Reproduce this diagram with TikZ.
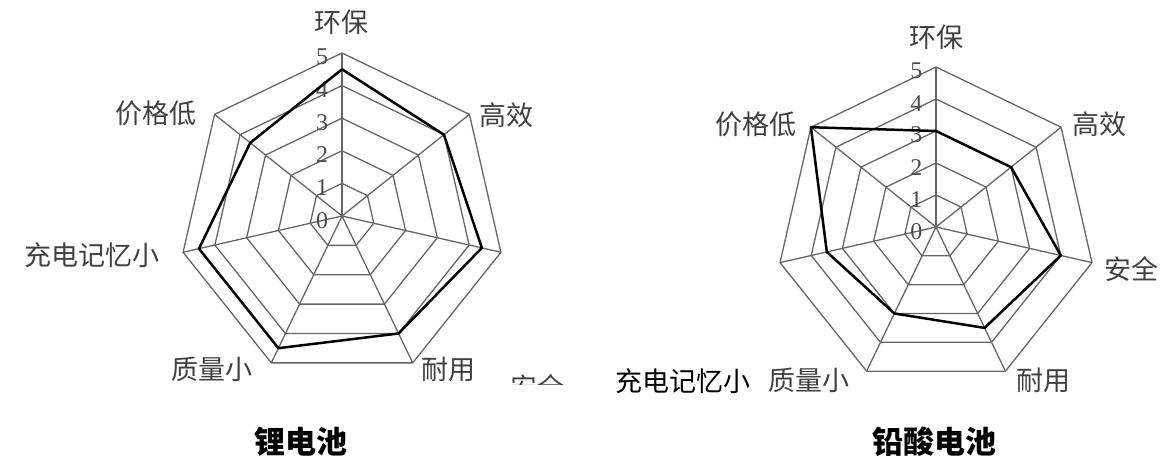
\documentclass[tikz,border=0pt]{standalone}
\usepackage{fontspec}
\setmainfont{Liberation Serif}
\newfontfamily\cjk{Noto Sans CJK SC}
\usetikzlibrary{positioning}

\tikzset{
  web/.style={draw=black!60, line width=1.3pt},
  score/.style={draw=black, line width=2.5pt, line join=round},
  axislbl/.style={font=\cjk\fontsize{27}{27}\selectfont, text=black!75, inner sep=0pt},
  lvl/.style={font=\fontsize{24}{24}\selectfont, text=black!70, inner sep=0pt, anchor=east},
  title/.style={font=\cjk\bfseries\fontsize{31}{31}\selectfont, inner sep=0pt},
}

% heptagon web with level numbers 0..5, #1 = name prefix
\newcommand\webgrid[1]{%
  \foreach \r in {1,...,5}
    \draw[web] (90:\r) -- (38.57:\r) -- (-12.86:\r) -- (-64.29:\r)
      -- (-115.71:\r) -- (-167.14:\r) -- (141.43:\r) -- cycle;
  \foreach \a in {90,38.57,-12.86,-64.29,-115.71,-167.14,141.43}
    \draw[web] (0,0) -- (\a:5);
  \foreach \v in {0,...,5}
    \node[lvl] (#1\v) at (-0.42,\v-0.13) {\v};
}

\begin{document}
\begin{tikzpicture}[x=1pt, y=1pt]
    \useasboundingbox (0,0) rectangle (1174,466);

    % lithium battery
    \begin{scope}[shift={(342,250)}, x=32.6pt, y=32.6pt]
        \webgrid{li}
        \draw[score] (90:4.5) -- (38.57:4) -- (-12.86:4.4) -- (-64.29:4)
            -- (-115.71:4.5) -- (-167.14:4.5) -- (141.43:3.6) -- cycle;
    \end{scope}
    \node[axislbl] (lihb) at (341,444) {环保};
    \node[axislbl] (ligx) at (506,351) {高效};
    \node[axislbl] (liny) at (448,97) {耐用};
    \node[axislbl] (lizl) at (212,97) {质量小};
    \node[axislbl] (licd) at (92,211) {充电记忆小};
    \node[axislbl] (lijg) at (156,353) {价格低};
    \begin{scope}
        \clip (500,82) rectangle (580,100);
        \node[axislbl] (liaq) at (537,79) {安全};
    \end{scope}
    \node[title] (lititle) at (301,24) {锂电池};

    % lead-acid battery
    \begin{scope}[shift={(936,239)}, x=32pt, y=32pt]
        \webgrid{pb}
        \draw[score] (90:3) -- (38.57:3) -- (-12.86:4) -- (-64.29:3.5)
            -- (-115.71:3) -- (-167.14:3.5) -- (141.43:5) -- cycle;
    \end{scope}
    \node[axislbl] (pbhb) at (936,429) {环保};
    \node[axislbl] (pbgx) at (1099,342) {高效};
    \node[axislbl] (pbaq) at (1131,197) {安全};
    \node[axislbl] (pbny) at (1043,86) {耐用};
    \node[axislbl] (pbzl) at (809,86) {质量小};
    \node[axislbl, text=black] (pbcd) at (683,85) {充电记忆小};
    \node[axislbl] (pbjg) at (756,342) {价格低};
    \node[title] (pbtitle) at (934,24) {铅酸电池};
\end{tikzpicture}
\end{document}
